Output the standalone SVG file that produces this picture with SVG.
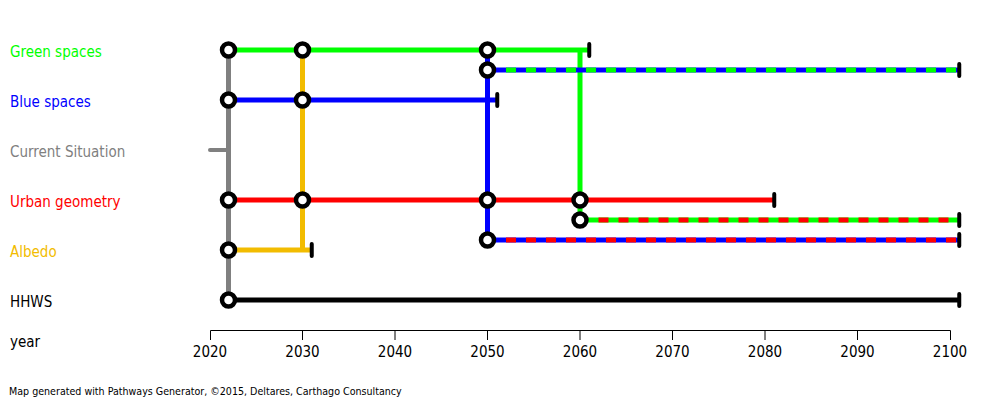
<svg xmlns="http://www.w3.org/2000/svg" width="1000" height="400" viewBox="0 0 1000 400">
<style>
text{font-family:"DejaVu Sans Condensed","DejaVu Sans",sans-serif;font-stretch:condensed;font-size:15px}
.lbl{text-anchor:start}
.yr{text-anchor:middle;fill:#000}
.foot{font-size:10.6px;fill:#000}
.ln{fill:none;stroke-width:5}
.dash{fill:none;stroke-width:5;stroke-dasharray:10 10}
.node{fill:#fff;stroke:#000;stroke-width:4.5}
.term{stroke:#000;stroke-width:4;stroke-linecap:round}
.axis{stroke:#000;stroke-width:1;fill:none}
</style>
<rect width="1000" height="400" fill="#fff"/>
<g id="labels">
<text class="lbl" x="10" y="57" fill="#00ff00">Green spaces</text>
<text class="lbl" x="10" y="107" fill="#0000ff">Blue spaces</text>
<text class="lbl" x="10" y="157" fill="#808080">Current Situation</text>
<text class="lbl" x="10" y="207" fill="#ff0000">Urban geometry</text>
<text class="lbl" x="10" y="257" fill="#f2bc00">Albedo</text>
<text class="lbl" x="10" y="307" fill="#000">HHWS</text>
<text class="lbl" x="10" y="347" fill="#000">year</text>
</g>
<g id="axis">
<path class="axis" d="M210.5,340V330.5H950.5V340M302.5,330.5V340M395,330.5V340M487.5,330.5V340M580,330.5V340M672.5,330.5V340M765,330.5V340M857.5,330.5V340"/>
<text class="yr" x="210" y="357">2020</text>
<text class="yr" x="302.5" y="357">2030</text>
<text class="yr" x="395" y="357">2040</text>
<text class="yr" x="487.5" y="357">2050</text>
<text class="yr" x="580" y="357">2060</text>
<text class="yr" x="672.5" y="357">2070</text>
<text class="yr" x="765" y="357">2080</text>
<text class="yr" x="857.5" y="357">2090</text>
<text class="yr" x="950" y="357">2100</text>
</g>
<g id="connectors">
<path class="ln" stroke="#808080" d="M228.5,50V300"/>
<path fill="none" stroke="#808080" stroke-width="4" stroke-linecap="round" d="M210,150H228.5"/>
<path class="ln" stroke="#f2bc00" d="M302.5,50V250M228.5,250H311.75"/>
<path class="ln" stroke="#0000ff" d="M487.5,50V240M228.5,100H497.25"/>
<path class="ln" stroke="#00ff00" d="M580,50V220M228.5,50H589.25"/>
<path class="ln" stroke="#ff0000" d="M228.5,200H774.25"/>
<path class="ln" stroke="#000" d="M228.5,300H959.25"/>
<path class="ln" stroke="#0000ff" d="M487.5,70H959.25"/>
<path class="dash" stroke="#00ff00" d="M506,70H959.25"/>
<path class="ln" stroke="#00ff00" d="M580,220H959.25"/>
<path class="dash" stroke="#ff0000" d="M598.5,220H959.25"/>
<path class="ln" stroke="#0000ff" d="M487.5,240H959.25"/>
<path class="dash" stroke="#ff0000" d="M506,240H959.25"/>
</g>
<g id="terminators">
<path class="term" d="M589.25,44V56M497.25,94V106M311.75,244V256M774.25,194V206M959.25,64V76M959.25,214V226M959.25,234V246M959.25,294V306"/>
</g>
<g id="n-green">
<circle class="node" cx="228.5" cy="50" r="6.5"/>
<circle class="node" cx="302.5" cy="50" r="6.5"/>
<circle class="node" cx="487.5" cy="50" r="6.5"/>
</g>
<g id="n-greenblue"><circle class="node" cx="487.5" cy="70" r="6.5"/></g>
<g id="n-blue">
<circle class="node" cx="228.5" cy="100" r="6.5"/>
<circle class="node" cx="302.5" cy="100" r="6.5"/>
</g>
<g id="n-urban">
<circle class="node" cx="228.5" cy="200" r="6.5"/>
<circle class="node" cx="302.5" cy="200" r="6.5"/>
<circle class="node" cx="487.5" cy="200" r="6.5"/>
<circle class="node" cx="580" cy="200" r="6.5"/>
</g>
<g id="n-greenred"><circle class="node" cx="580" cy="220" r="6.5"/></g>
<g id="n-bluered"><circle class="node" cx="487.5" cy="240" r="6.5"/></g>
<g id="n-albedo"><circle class="node" cx="228.5" cy="250" r="6.5"/></g>
<g id="n-hhws"><circle class="node" cx="228.5" cy="300" r="6.5"/></g>
<text class="foot" x="9" y="395">Map generated with Pathways Generator, ©2015, Deltares, Carthago Consultancy</text>
</svg>
